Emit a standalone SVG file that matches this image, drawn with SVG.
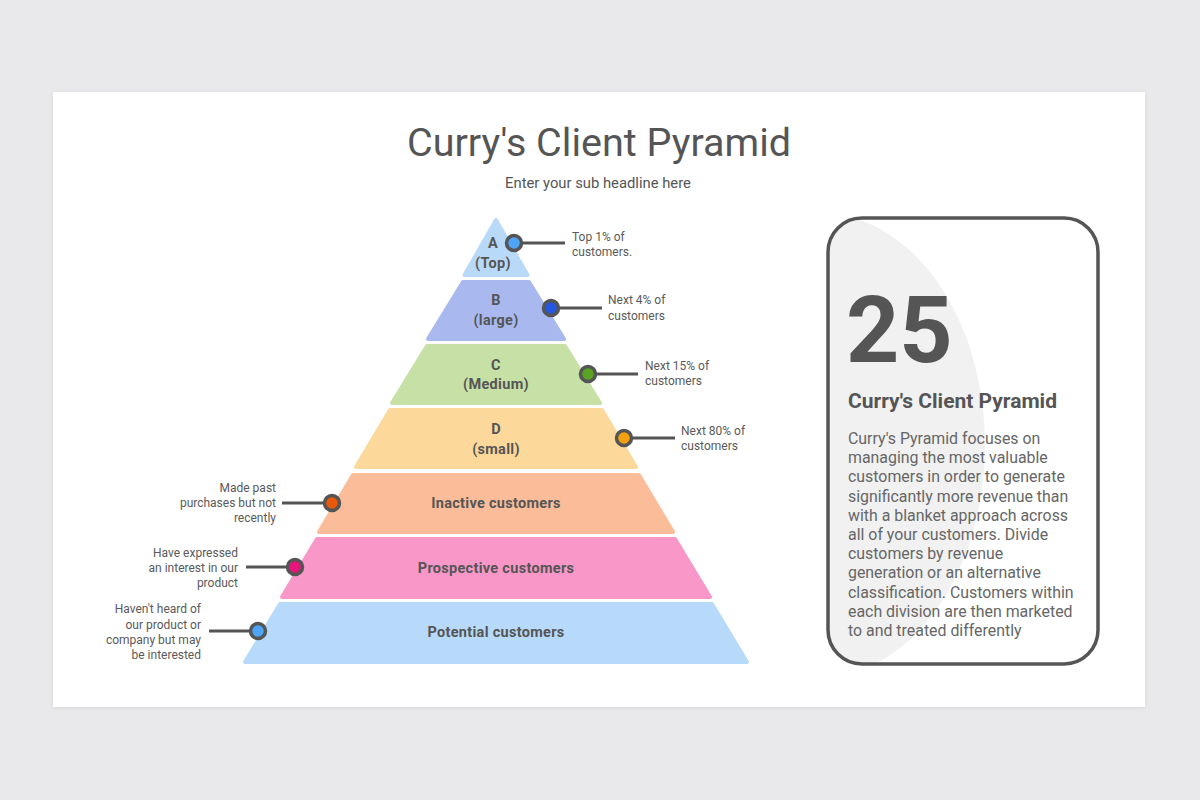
<svg xmlns="http://www.w3.org/2000/svg" width="1200" height="800" viewBox="0 0 1200 800">
<style>
.t{font-family:Roboto,"Liberation Sans",sans-serif;fill:#555}
.lbl{font-family:Roboto,"Liberation Sans",sans-serif;font-weight:bold;font-size:14.5px;letter-spacing:0.3px;fill:#555;text-anchor:middle}
.note{font-family:Roboto,"Liberation Sans",sans-serif;font-size:12px;fill:#5a5a5a}
.noteR{font-family:Roboto,"Liberation Sans",sans-serif;font-size:12px;fill:#5a5a5a;text-anchor:end}
.body{font-family:Roboto,"Liberation Sans",sans-serif;font-size:15.9px;fill:#666}
.lyr{stroke-width:4;stroke-linejoin:round}
.dot{stroke:#555;stroke-width:3.5}
.ln{stroke:#555;stroke-width:3;fill:none}
</style>
<defs>
<clipPath id="cardclip"><rect x="828" y="218" width="270" height="446" rx="34"/></clipPath>
<filter id="sh" x="-5%" y="-5%" width="110%" height="110%"><feDropShadow dx="0" dy="1" stdDeviation="2" flood-color="#000" flood-opacity="0.08"/></filter>
</defs>
<rect width="1200" height="800" fill="#e9e8ea"/>
<rect x="53" y="92" width="1092" height="615" fill="#ffffff" filter="url(#sh)"/>
<text class="t" x="599" y="156" font-size="39.5" text-anchor="middle">Curry's Client Pyramid</text>
<text class="t" x="598" y="188" font-size="14.8" text-anchor="middle">Enter your sub headline here</text>

<g id="layer-a">
<polygon class="lyr" points="496,220 527.5,275 464.5,275" fill="#b9d9f8" stroke="#b9d9f8"/>
<text class="lbl" x="493" y="248">A</text>
<text class="lbl" x="493" y="268">(Top)</text>
</g>
<g id="layer-b">
<polygon class="lyr" points="463,282 529,282 564,339 428,339" fill="#a9b9ef" stroke="#a9b9ef"/>
<text class="lbl" x="496" y="305">B</text>
<text class="lbl" x="496" y="325">(large)</text>
</g>
<g id="layer-c">
<polygon class="lyr" points="427,346 565,346 600,403 392,403" fill="#c6e0a6" stroke="#c6e0a6"/>
<text class="lbl" x="496" y="370">C</text>
<text class="lbl" x="496" y="389">(Medium)</text>
</g>
<g id="layer-d">
<polygon class="lyr" points="390,410 602,410 636,467 356,467" fill="#fcd99b" stroke="#fcd99b"/>
<text class="lbl" x="496" y="434">D</text>
<text class="lbl" x="496" y="454">(small)</text>
</g>
<g id="layer-inactive">
<polygon class="lyr" points="353,475 639,475 673,532 319,532" fill="#fbbd99" stroke="#fbbd99"/>
<text class="lbl" x="496" y="508">Inactive customers</text>
</g>
<g id="layer-prospective">
<polygon class="lyr" points="317,539 675,539 710,597 282,597" fill="#f998c8" stroke="#f998c8"/>
<text class="lbl" x="496" y="573">Prospective customers</text>
</g>
<g id="layer-potential">
<polygon class="lyr" points="280,604 712,604 747,662 245,662" fill="#b8dafa" stroke="#b8dafa"/>
<text class="lbl" x="496" y="637">Potential customers</text>
</g>

<g id="connectors">
<line class="ln" x1="522" y1="243" x2="565" y2="243"/>
<line class="ln" x1="559" y1="308" x2="602" y2="308"/>
<line class="ln" x1="596" y1="374" x2="638" y2="374"/>
<line class="ln" x1="632" y1="438" x2="675" y2="438"/>
<line class="ln" x1="282" y1="503" x2="324" y2="503"/>
<line class="ln" x1="246" y1="567" x2="287" y2="567"/>
<line class="ln" x1="209" y1="631" x2="250" y2="631"/>
</g>

<g id="dots">
<circle class="dot" cx="514" cy="243" r="7.5" fill="#4ea4f6"/>
<circle class="dot" cx="551" cy="308" r="7.5" fill="#2456e0"/>
<circle class="dot" cx="588" cy="374" r="7.5" fill="#5aa325"/>
<circle class="dot" cx="624" cy="438" r="7.5" fill="#f5a00f"/>
<circle class="dot" cx="332" cy="503" r="7.5" fill="#e85a0a"/>
<circle class="dot" cx="295" cy="567" r="7.5" fill="#e8157a"/>
<circle class="dot" cx="258" cy="631" r="7.5" fill="#4ea4f6"/>
</g>

<g id="notes">
<text class="note" x="572" y="241">Top 1% of</text>
<text class="note" x="572" y="256">customers.</text>
<text class="note" x="608" y="304">Next 4% of</text>
<text class="note" x="608" y="320">customers</text>
<text class="note" x="645" y="370">Next 15% of</text>
<text class="note" x="645" y="385">customers</text>
<text class="note" x="681" y="435">Next 80% of</text>
<text class="note" x="681" y="450">customers</text>
<text class="noteR" x="276" y="492">Made past</text>
<text class="noteR" x="276" y="507">purchases but not</text>
<text class="noteR" x="276" y="522">recently</text>
<text class="noteR" x="238" y="557">Have expressed</text>
<text class="noteR" x="238" y="572">an interest in our</text>
<text class="noteR" x="238" y="587">product</text>
<text class="noteR" x="201" y="613">Haven't heard of</text>
<text class="noteR" x="201" y="629">our product or</text>
<text class="noteR" x="201" y="644">company but may</text>
<text class="noteR" x="201" y="659">be interested</text>
</g>

<g id="info-card">
<rect x="828" y="218" width="270" height="446" rx="34" fill="#ffffff"/>
<ellipse cx="820" cy="445" rx="165" ry="232" fill="#f1f1f1" clip-path="url(#cardclip)"/>
<rect x="828" y="218" width="270" height="446" rx="34" fill="none" stroke="#555" stroke-width="3.5"/>
<text class="t" x="846" y="362" font-size="93" font-weight="bold">25</text>
<text class="t" x="848" y="408" font-size="21" font-weight="bold">Curry's Client Pyramid</text>
<text class="body" x="848" y="444">Curry's Pyramid focuses on</text>
<text class="body" x="848" y="463">managing the most valuable</text>
<text class="body" x="848" y="482">customers in order to generate</text>
<text class="body" x="848" y="502">significantly more revenue than</text>
<text class="body" x="848" y="521">with a blanket approach across</text>
<text class="body" x="848" y="540">all of your customers. Divide</text>
<text class="body" x="848" y="559">customers by revenue</text>
<text class="body" x="848" y="578">generation or an alternative</text>
<text class="body" x="848" y="598">classification. Customers within</text>
<text class="body" x="848" y="617">each division are then marketed</text>
<text class="body" x="848" y="636">to and treated differently</text>
</g>
</svg>
